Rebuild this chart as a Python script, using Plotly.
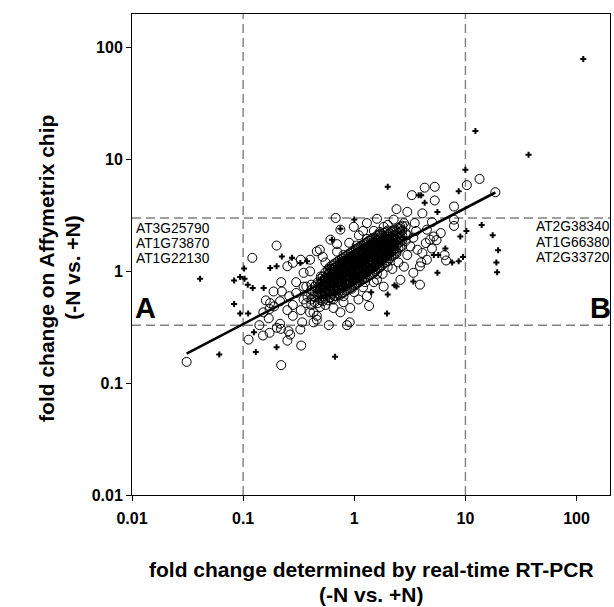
import plotly.graph_objects as go

# ---------------- data (fold changes) ----------------
# dense core of open circles: column x values and the y values in each column
core_cols_x = [0.41, 0.47, 0.52, 0.58, 0.63, 0.69, 0.74, 0.81, 0.87, 0.93, 1.00, 1.07, 1.14,
               1.22, 1.30, 1.40, 1.50, 1.60, 1.72, 1.85, 2.00, 2.15, 2.30, 2.50, 2.70, 2.90,
               0.44, 0.50, 0.55, 0.60, 0.66, 0.715, 0.775, 0.84, 0.90, 0.965, 1.035, 1.105,
               1.18, 1.26, 1.35, 1.45, 1.55, 1.66, 1.78, 1.92, 2.07, 2.22, 2.40, 2.60]
core_cols_y = [
    [0.50, 0.56, 0.62, 0.68, 0.76],
    [0.52, 0.59, 0.65, 0.72, 0.80],
    [0.54, 0.60, 0.67, 0.73, 0.81, 0.90],
    [0.55, 0.62, 0.69, 0.77, 0.85, 0.94, 1.04],
    [0.57, 0.63, 0.70, 0.78, 0.85, 0.93, 1.03, 1.13],
    [0.60, 0.67, 0.75, 0.83, 0.90, 0.99, 1.09, 1.20],
    [0.61, 0.68, 0.76, 0.83, 0.90, 0.97, 1.05, 1.14, 1.26],
    [0.65, 0.73, 0.81, 0.88, 0.96, 1.04, 1.12, 1.22, 1.34],
    [0.68, 0.76, 0.84, 0.92, 1.00, 1.08, 1.17, 1.27, 1.40],
    [0.71, 0.80, 0.88, 0.97, 1.05, 1.13, 1.23, 1.33, 1.47],
    [0.75, 0.84, 0.92, 1.01, 1.10, 1.19, 1.29, 1.40, 1.54],
    [0.78, 0.87, 0.97, 1.06, 1.15, 1.24, 1.35, 1.46, 1.61],
    [0.82, 0.91, 1.01, 1.10, 1.20, 1.30, 1.40, 1.52, 1.68],
    [0.85, 0.95, 1.05, 1.15, 1.25, 1.35, 1.46, 1.59, 1.75],
    [0.88, 0.99, 1.09, 1.20, 1.30, 1.40, 1.52, 1.65, 1.82],
    [0.93, 1.04, 1.15, 1.26, 1.37, 1.48, 1.60, 1.74, 1.92],
    [0.97, 1.09, 1.20, 1.32, 1.43, 1.54, 1.67, 1.82, 2.00],
    [1.04, 1.16, 1.30, 1.43, 1.56, 1.71, 1.89, 2.09],
    [1.09, 1.22, 1.36, 1.50, 1.64, 1.79, 1.98, 2.18],
    [1.18, 1.31, 1.48, 1.64, 1.80, 2.00, 2.21],
    [1.24, 1.38, 1.55, 1.72, 1.89, 2.10, 2.32],
    [1.36, 1.52, 1.68, 1.85, 2.03, 2.26],
    [1.42, 1.59, 1.76, 1.93, 2.12, 2.36],
    [1.60, 1.80, 2.00, 2.20, 2.44],
    [1.68, 1.89, 2.10, 2.31, 2.56],
    [1.87, 2.20, 2.53],
    [0.53, 0.59, 0.66, 0.73],
    [0.55, 0.62, 0.69, 0.77, 0.86],
    [0.57, 0.64, 0.71, 0.79, 0.88, 0.98],
    [0.58, 0.66, 0.73, 0.81, 0.89, 0.98, 1.09],
    [0.60, 0.67, 0.74, 0.82, 0.89, 0.97, 1.07, 1.17],
    [0.63, 0.71, 0.79, 0.87, 0.94, 1.03, 1.12, 1.23],
    [0.64, 0.72, 0.80, 0.87, 0.94, 1.01, 1.09, 1.18, 1.30],
    [0.67, 0.75, 0.83, 0.90, 0.98, 1.06, 1.15, 1.25, 1.37],
    [0.70, 0.78, 0.86, 0.95, 1.03, 1.11, 1.20, 1.30, 1.44],
    [0.73, 0.82, 0.90, 0.99, 1.08, 1.16, 1.26, 1.37, 1.51],
    [0.77, 0.86, 0.95, 1.04, 1.13, 1.22, 1.32, 1.43, 1.58],
    [0.80, 0.89, 0.99, 1.08, 1.18, 1.27, 1.38, 1.49, 1.65],
    [0.84, 0.93, 1.03, 1.13, 1.23, 1.33, 1.44, 1.56, 1.72],
    [0.87, 0.97, 1.07, 1.18, 1.28, 1.38, 1.50, 1.62, 1.79],
    [0.91, 1.02, 1.12, 1.23, 1.34, 1.45, 1.57, 1.70, 1.88],
    [0.95, 1.07, 1.18, 1.29, 1.40, 1.51, 1.64, 1.78, 1.96],
    [1.01, 1.13, 1.25, 1.37, 1.50, 1.63, 1.78, 1.96],
    [1.07, 1.19, 1.33, 1.47, 1.60, 1.75, 1.93, 2.13],
    [1.13, 1.27, 1.42, 1.57, 1.72, 1.89, 2.09],
    [1.21, 1.35, 1.52, 1.68, 1.85, 2.05, 2.26],
    [1.30, 1.45, 1.62, 1.79, 1.96, 2.18],
    [1.39, 1.56, 1.72, 1.89, 2.08, 2.31],
    [1.51, 1.70, 1.88, 2.06, 2.28],
    [1.64, 1.84, 2.05, 2.26, 2.50],
]

# dense core of crosses
core_cross_cols_x = [0.50, 0.60, 0.72, 0.84, 0.97, 1.10, 1.26, 1.45, 1.66, 1.92, 2.20,
                     0.55, 0.66, 0.78, 0.90, 1.03, 1.18, 1.35, 1.55, 1.78, 2.05]
core_cross_cols_y = [
    [0.58, 0.66, 0.75, 0.84],
    [0.62, 0.72, 0.82, 0.93, 1.05],
    [0.66, 0.76, 0.86, 0.97, 1.10, 1.22],
    [0.72, 0.83, 0.94, 1.06, 1.18, 1.32],
    [0.79, 0.90, 1.02, 1.14, 1.28, 1.45],
    [0.85, 0.97, 1.10, 1.23, 1.37, 1.55],
    [0.92, 1.05, 1.19, 1.33, 1.49, 1.68],
    [1.02, 1.16, 1.31, 1.47, 1.65, 1.86],
    [1.15, 1.30, 1.47, 1.64, 1.84],
    [1.30, 1.48, 1.66, 1.86, 2.08],
    [1.45, 1.65, 1.85, 2.07],
    [0.61, 0.70, 0.79, 0.90],
    [0.64, 0.73, 0.83, 0.94, 1.06],
    [0.69, 0.79, 0.90, 1.01, 1.13, 1.27],
    [0.75, 0.86, 0.98, 1.10, 1.23, 1.38],
    [0.82, 0.93, 1.06, 1.19, 1.33, 1.50],
    [0.88, 1.01, 1.14, 1.28, 1.43, 1.61],
    [0.97, 1.10, 1.25, 1.40, 1.57, 1.77],
    [1.08, 1.23, 1.39, 1.56, 1.75],
    [1.22, 1.39, 1.56, 1.75, 1.96],
    [1.38, 1.57, 1.76, 1.97],
]

# scattered open circles
circle_x = [13.4, 10.3, 18.6, 4.3, 5.3, 3.3, 5.3, 7.9, 2.4, 3.0, 4.1, 0.68, 1.6, 5.0, 7.9, 7.9,
            5.5, 6.5, 6.7, 3.9, 1.36, 0.92, 0.91, 0.59, 0.34, 0.20, 0.121, 0.031, 0.22,
            0.112, 0.151, 0.173, 0.201, 0.219, 0.256, 0.265, 0.327, 0.333, 0.215, 0.188, 0.223,
            0.215, 0.19, 0.173, 0.152, 0.175, 0.86,
            0.35, 0.38, 0.49, 0.43, 0.65, 0.80, 1.09, 0.61,
            2.26, 3.2, 3.7, 4.1, 4.4, 4.8, 5.2, 4.5, 3.5, 2.8, 2.26, 1.84, 1.3, 0.99, 0.75,
            0.61, 0.49, 0.40, 0.35, 3.4, 2.6, 1.84, 1.3, 0.65, 1.6, 3.9, 4.5, 0.75, 0.46,
            0.33, 0.37, 0.43, 0.35, 0.40, 0.46, 0.28, 0.25, 0.43, 0.30, 0.37, 0.25, 0.28,
            0.33, 0.46,
            0.55, 0.70, 0.90, 1.10, 1.50, 2.00, 2.60, 3.00, 3.40, 3.00, 2.50, 2.20, 1.80,
            1.50, 1.20, 1.00, 0.80, 0.55, 0.50, 0.45, 0.60, 0.80, 1.05, 1.30, 1.70, 2.40,
            2.00, 1.60, 1.25, 0.95, 0.28, 0.30, 0.26, 0.40, 0.52, 0.70, 1.20, 3.60, 6.00,
            4.00, 5.00, 2.80, 0.25, 0.17, 0.14, 0.22, 0.16]
circle_y = [6.7, 5.9, 5.1, 5.6, 5.7, 4.8, 4.3, 3.8, 3.6, 3.4, 3.3, 3.0, 2.95, 2.75, 2.9, 2.55,
            1.9, 1.4, 1.25, 0.76, 0.49, 0.47, 0.35, 0.33, 0.35, 1.7, 1.32, 0.155, 0.145,
            0.245, 0.267, 0.282, 0.313, 0.306, 0.292, 0.272, 0.302, 0.217, 0.34, 0.66, 0.66,
            0.54, 0.486, 0.461, 0.43, 0.52, 0.33,
            0.73, 0.59, 0.48, 0.43, 0.47, 0.53, 0.56, 0.59,
            1.56, 1.67, 1.56, 1.46, 1.79, 1.92, 2.05, 2.36, 2.7, 2.7, 2.9, 2.5, 2.7, 2.5, 2.36,
            1.92, 1.56, 1.27, 0.97, 0.97, 0.84, 0.73, 0.60, 0.56, 0.84, 1.11, 1.27, 0.43, 0.37,
            0.45, 0.52, 0.60, 0.56, 0.43, 0.40, 0.40, 0.45, 0.35, 0.64, 0.73, 1.11, 1.19,
            1.27, 1.51,
            1.20, 1.50, 1.80, 2.10, 2.30, 2.60, 2.40, 2.10, 2.00, 1.40, 1.20, 1.05, 0.95,
            0.80, 0.72, 0.65, 0.60, 0.50, 0.90, 0.75, 1.05, 1.40, 1.70, 1.95, 2.25, 1.45,
            1.10, 0.95, 0.80, 0.70, 0.50, 0.80, 0.60, 1.00, 1.35, 1.75, 2.30, 2.30, 2.20,
            1.20, 1.60, 1.10, 0.24, 0.38, 0.33, 0.80, 0.55]

# scattered crosses
cross_x = [115, 12.3, 37, 10, 2.0, 4.0, 3.8, 8.7, 4.3, 5.6, 10.2, 14, 17.6, 19.7, 19, 19.3,
           9.0, 5.7, 5.2, 7.6, 8.7, 9.5, 6.6, 5.6, 3.4, 2.4, 2.3, 2.0, 1.42, 1.97, 0.67,
           0.102, 0.083, 0.094, 0.103, 0.110, 0.122, 0.153, 0.041, 0.083, 0.094, 0.111,
           0.061, 0.13, 0.20, 0.125,
           0.175, 0.20, 0.223, 0.275, 0.327, 0.375, 1.0, 0.75, 0.63]
cross_y = [79, 18, 11, 8.1, 5.7, 4.8, 4.8, 5.2, 4.1, 3.4, 2.3, 2.6, 2.1, 1.54, 1.2, 0.98,
           2.05, 1.4, 1.4, 1.2, 1.23, 1.34, 1.6, 0.97, 0.81, 0.73, 0.75, 0.62, 0.65, 0.42, 0.172,
           1.06, 0.83, 0.89, 0.86, 0.76, 0.71, 0.71, 0.86, 0.51, 0.42, 0.42,
           0.18, 0.19, 0.21, 0.285,
           1.07, 1.11, 1.36, 1.32, 1.19, 1.23, 2.9, 2.4, 1.92]

# regression line end points
fit_x = [0.031, 18.6]
fit_y = [0.184, 5.07]

# threshold lines
x_thresholds = [0.1, 10]
y_thresholds = [3, 0.33]

axis_min = 0.01
axis_max = 200
tick_vals = [0.01, 0.1, 1, 10, 100]
tick_text = ["0.01", "0.1", "1", "10", "100"]

left_genes = ["AT3G25790", "AT1G73870", "AT1G22130"]
right_genes = ["AT2G38340", "AT1G66380", "AT2G33720"]

x_title = ["fold change determined by real-time RT-PCR", "(-N vs. +N)"]
y_title = ["fold change on Affymetrix chip", "(-N vs. +N)"]

# ---------------- figure ----------------
FONT = "Liberation Sans, Arial, sans-serif"

core_x, core_y = [], []
for cx, ys in zip(core_cols_x, core_cols_y):
    for yv in ys:
        core_x.append(cx)
        core_y.append(yv)
ccx, ccy = [], []
for cx, ys in zip(core_cross_cols_x, core_cross_cols_y):
    for yv in ys:
        ccx.append(cx)
        ccy.append(yv)

fig = go.Figure()

dash_style = dict(color="#808080", width=1.4, dash="9px,5px")
for xv in x_thresholds:
    fig.add_trace(go.Scatter(x=[xv, xv], y=[axis_min, axis_max], mode="lines",
                             line=dash_style, hoverinfo="skip"))
for yv in y_thresholds:
    fig.add_trace(go.Scatter(x=[axis_min, axis_max], y=[yv, yv], mode="lines",
                             line=dash_style, hoverinfo="skip"))

circle_marker = dict(symbol="circle-open", size=9, color="black", line=dict(width=1))
cross_marker = dict(symbol="cross", size=5, color="black", line=dict(width=0))
core_cross_marker = dict(symbol="cross", size=6, color="black", line=dict(width=0))

fig.add_trace(go.Scatter(x=circle_x, y=circle_y, mode="markers", marker=circle_marker))
fig.add_trace(go.Scatter(x=core_x, y=core_y, mode="markers", marker=circle_marker))
fig.add_trace(go.Scatter(x=ccx, y=ccy, mode="markers", marker=core_cross_marker))
fig.add_trace(go.Scatter(x=cross_x, y=cross_y, mode="markers", marker=cross_marker))
fig.add_trace(go.Scatter(x=fit_x, y=fit_y, mode="lines", line=dict(color="black", width=2.6)))

axis_common = dict(
    type="log", range=[-2, 2.301], tickvals=tick_vals, ticktext=tick_text,
    showline=True, linecolor="black", linewidth=1, mirror=True,
    ticks="outside", ticklen=5, tickwidth=1, tickcolor="black",
    showgrid=False, zeroline=False,
    tickfont=dict(family=FONT, size=16, color="black", weight="bold"),
)
fig.update_xaxes(**axis_common, ticklabelstandoff=4)
fig.update_yaxes(**axis_common, ticklabelstandoff=0)

ann = []
gene_font = dict(family=FONT, size=13.8, color="black")
left_y = [0.555, 0.522, 0.491]
right_y = [0.558, 0.524, 0.493]
for g, yy in zip(left_genes, left_y):
    ann.append(dict(text=g, x=0.004, y=yy, xref="paper", yref="paper", xanchor="left",
                    yanchor="middle", showarrow=False, font=gene_font))
for g, yy in zip(right_genes, right_y):
    ann.append(dict(text=g, x=1.0, y=yy, xref="paper", yref="paper", xanchor="right",
                    yanchor="middle", showarrow=False, font=gene_font, xshift=2))
big = dict(family=FONT, size=29, color="black", weight="bold")
ann.append(dict(text="A", x=0.004, y=0.389, xref="paper", yref="paper", xanchor="left",
                yanchor="middle", showarrow=False, font=big, xshift=-1))
ann.append(dict(text="B", x=1.0, y=0.389, xref="paper", yref="paper", xanchor="right",
                yanchor="middle", showarrow=False, font=big, xshift=3))
title_font = dict(family=FONT, size=21, color="black", weight="bold")
for t, yy in zip(x_title, [-0.155, -0.206]):
    ann.append(dict(text=t, x=0.5, y=yy, xref="paper", yref="paper", xanchor="center",
                    yanchor="middle", showarrow=False, font=title_font, borderpad=0))
for t, xx in zip(y_title, [-0.178, -0.124]):
    ann.append(dict(text=t, textangle=-90, x=xx, y=0.472, xref="paper", yref="paper",
                    xanchor="center", yanchor="middle", showarrow=False, font=title_font))

fig.update_layout(
    width=614, height=607,
    margin=dict(l=132, r=4, t=14, b=112),
    plot_bgcolor="white", paper_bgcolor="white",
    showlegend=False, annotations=ann,
)

fig.write_html("out.html", config={"displayModeBar": False},
               post_script="document.body.style.margin='0px';")
